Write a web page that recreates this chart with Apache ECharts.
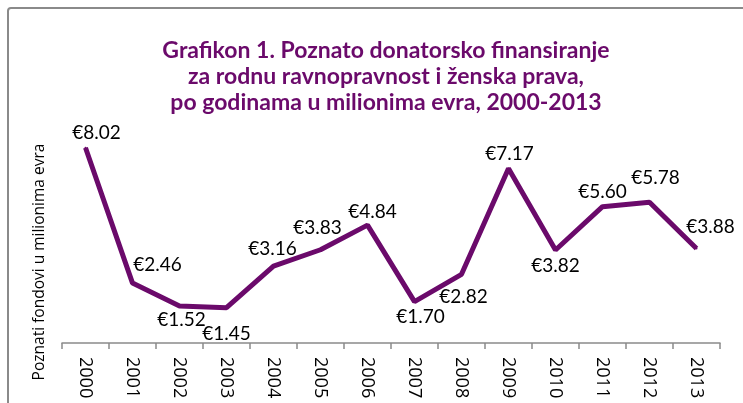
<!DOCTYPE html>
<html>
<head>
<meta charset="utf-8">
<script src="https://cdn.jsdelivr.net/npm/echarts@6/dist/echarts.min.js"></script>
<style>
html, body { margin: 0; padding: 0; background: #fff; }
#main { width: 743px; height: 403px; }
</style>
</head>
<body>
<div id="main"></div>
<script>
const years = ['2000', '2001', '2002', '2003', '2004', '2005', '2006', '2007', '2008', '2009', '2010', '2011', '2012', '2013'];
const funding = [8.02, 2.46, 1.52, 1.45, 3.16, 3.83, 4.84, 1.70, 2.82, 7.17, 3.82, 5.60, 5.78, 3.88];
// where each value label sits relative to its point (px)
const labelOffsets = [[11, -15], [25, -18], [2, 14], [0, 26], [-1, -17], [-3, -22], [5, -13],
    [6, 15], [2, 23], [1, -15], [0, 16], [0, -15], [6, -24], [14, -22]];

const purple = '#6b0a6b';
const chart = echarts.init(document.getElementById('main'));

const option = {
    animation: false,
    title: {
        text: 'Grafikon 1. Poznato donatorsko finansiranje\nza rodnu ravnopravnost i ženska prava,\npo godinama u milionima evra, 2000-2013',
        left: 381,
        top: 33,
        textAlign: 'center',
        textStyle: {
            color: purple,
            fontFamily: 'Lato',
            fontWeight: 'bold',
            fontSize: 23,
            lineHeight: 26
        }
    },
    graphic: [
        {
            type: 'rect',
            shape: { x: 8, y: 8, width: 800, height: 500, r: 3 },
            style: { fill: 'none', stroke: '#8a8a8a', lineWidth: 2 }
        },
        {
            type: 'text',
            x: 40,
            y: 262,
            rotation: Math.PI / 2,
            style: {
                text: 'Poznati fondovi u milionima evra',
                fill: '#000',
                font: '15.5px "Open Sans"',
                textAlign: 'center',
                textVerticalAlign: 'middle'
            }
        }
    ],
    grid: { left: 62, right: 23, top: 99.5, bottom: 60 },
    xAxis: {
        type: 'category',
        data: years,
        boundaryGap: true,
        axisLine: { lineStyle: { color: '#8a8a8a', width: 1.5 } },
        axisTick: { show: true, length: 6, lineStyle: { color: '#8a8a8a', width: 1.5 } },
        axisLabel: {
            interval: 0,
            rotate: -90,
            margin: 14,
            color: '#000',
            fontFamily: 'Open Sans',
            fontSize: 18
        }
    },
    yAxis: {
        type: 'value',
        min: 0,
        max: 10,
        show: false
    },
    series: [
        {
            type: 'line',
            data: funding.map((v, i) => ({
                value: v,
                label: { offset: labelOffsets[i] }
            })),
            symbol: 'circle',
            symbolSize: 2,
            itemStyle: { color: purple },
            lineStyle: { color: purple, width: 5 },
            label: {
                show: true,
                position: 'inside',
                formatter: p => '€' + p.value.toFixed(2),
                color: '#000',
                fontFamily: 'Lato',
                fontSize: 19
            }
        }
    ]
};

chart.setOption(option);
</script>
</body>
</html>
